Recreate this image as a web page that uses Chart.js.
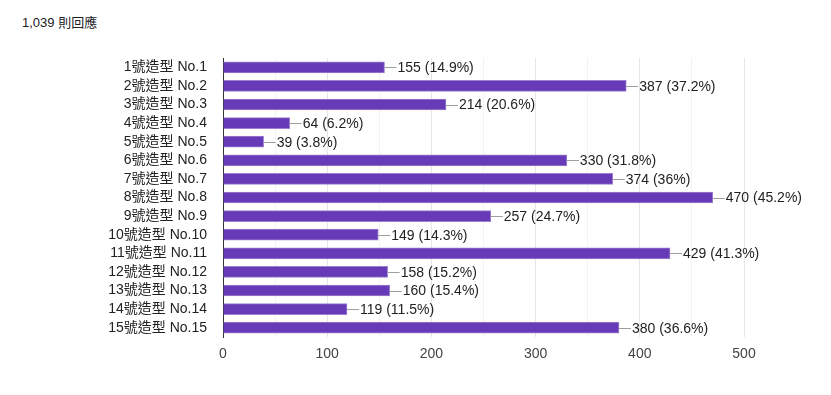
<!DOCTYPE html>
<html>
<head>
<meta charset="utf-8">
<script src="https://cdn.jsdelivr.net/npm/chart.js@4.4.1/dist/chart.umd.min.js"></script>
<style>
  html, body { margin: 0; padding: 0; background: #fff; }
  #wrap { position: relative; width: 831px; height: 395px; }
  #title {
    position: absolute; left: 22px; top: 12px;
    font: 13px "Liberation Sans", Arial, "Noto Sans CJK TC", sans-serif;
    color: #202124;
  }
  canvas { position: absolute; left: 0; top: 0; }
</style>
</head>
<body>
<div id="wrap">
  <div id="title">1,039 則回應</div>
  <canvas id="chart" width="831" height="395"></canvas>
</div>
<script>
'use strict';

// 造型投票結果
const categories = [
  '1號造型 No.1', '2號造型 No.2', '3號造型 No.3', '4號造型 No.4', '5號造型 No.5',
  '6號造型 No.6', '7號造型 No.7', '8號造型 No.8', '9號造型 No.9', '10號造型 No.10',
  '11號造型 No.11', '12號造型 No.12', '13號造型 No.13', '14號造型 No.14', '15號造型 No.15'
];
const counts   = [155, 387, 214, 64, 39, 330, 374, 470, 257, 149, 429, 158, 160, 119, 380];
const percents = ['14.9%', '37.2%', '20.6%', '6.2%', '3.8%', '31.8%', '36%', '45.2%', '24.7%',
                  '14.3%', '41.3%', '15.2%', '15.4%', '11.5%', '36.6%'];
const xTicks = [0, 100, 200, 300, 400, 500];

const FONT = '"Liberation Sans", Arial, "Noto Sans CJK TC", sans-serif';

// leader line + label at bar end
const barLabels = {
  id: 'barLabels',
  afterDatasetsDraw(chart) {
    const ctx = chart.ctx;
    const meta = chart.getDatasetMeta(0);
    ctx.save();
    ctx.font = '14px ' + FONT;
    ctx.textBaseline = 'middle';
    ctx.textAlign = 'left';
    meta.data.forEach((bar, i) => {
      const x = bar.x, y = bar.y;
      ctx.strokeStyle = '#9e9e9e';
      ctx.lineWidth = 1;
      ctx.beginPath();
      ctx.moveTo(x, Math.round(y) + 0.5);
      ctx.lineTo(x + 12, Math.round(y) + 0.5);
      ctx.stroke();
      ctx.fillStyle = '#222';
      ctx.fillText(`${counts[i]} (${percents[i]})`, x + 13, y + 1);
    });
    ctx.restore();
  }
};

new Chart(document.getElementById('chart'), {
  type: 'bar',
  data: {
    labels: categories,
    datasets: [{
      data: counts,
      backgroundColor: '#673ab7',
      borderColor: '#9c80d0',
      borderWidth: 1,
      borderSkipped: 'start',
      barThickness: 11,
    }]
  },
  options: {
    indexAxis: 'y',
    responsive: false,
    animation: false,
    layout: { padding: { top: 58, right: 87, left: 0, bottom: 0 } },
    plugins: {
      legend: { display: false },
      tooltip: { enabled: false },
    },
    scales: {
      x: {
        min: 0,
        max: 500,
        afterFit(scale) { scale.height = 58; },
        afterBuildTicks(scale) {
          const t = [];
          for (let v = 0; v <= 500; v += 50) t.push({ value: v });
          scale.ticks = t;
        },
        grid: {
          color: c => (c.tick && c.tick.value % 100 === 0) ? '#e6e6e6' : '#f3f3f3',
          drawTicks: false,
        },
        border: { display: false },
        ticks: {
          autoSkip: false,
          maxRotation: 0,
          padding: 9,
          font: { size: 14, family: FONT },
          color: '#444',
          callback: v => xTicks.includes(v) ? String(v) : '',
        },
      },
      y: {
        afterFit(scale) { scale.width = 223; },
        grid: { display: false, drawTicks: false },
        border: { display: true, color: '#333', width: 1 },
        ticks: {
          autoSkip: false,
          padding: 16,
          font: { size: 14, family: FONT },
          color: '#222',
        },
      },
    },
  },
  plugins: [barLabels],
});
</script>
</body>
</html>
